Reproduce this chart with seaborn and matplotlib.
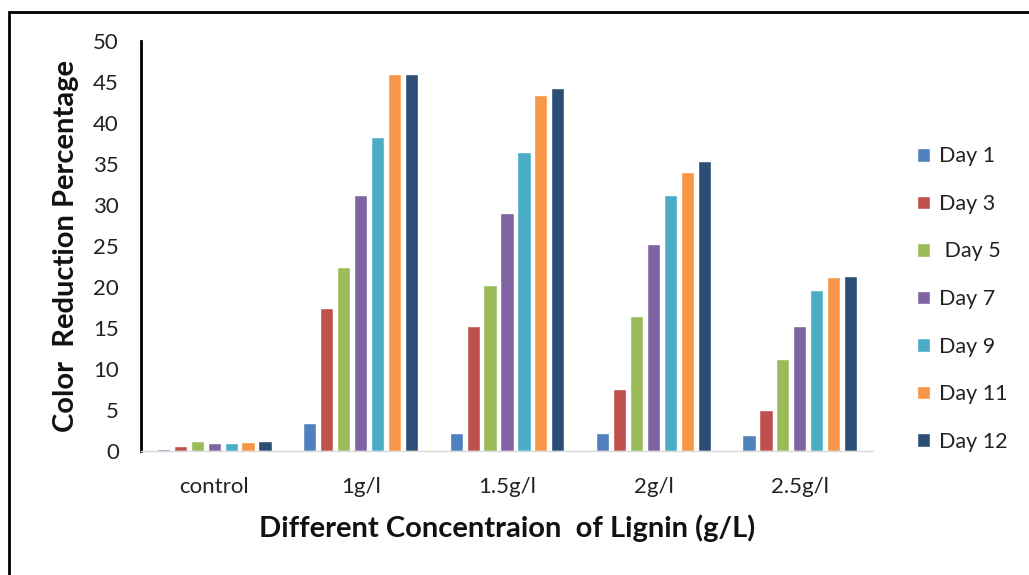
import matplotlib
matplotlib.use("Agg")
import matplotlib.pyplot as plt
import pandas as pd
import seaborn as sns
from matplotlib.patches import Rectangle

concentrations = ["control", "1g/l", "1.5g/l", "2g/l", "2.5g/l"]
days = ["Day 1", "Day 3", " Day 5", "Day 7", "Day 9", "Day 11", "Day 12"]

day1 = [0.25, 3.4, 2.2, 2.2, 2.0]
day3 = [0.6, 17.4, 15.2, 7.6, 5.0]
day5 = [1.2, 22.4, 20.2, 16.5, 11.2]
day7 = [1.0, 31.2, 29.0, 25.2, 15.2]
day9 = [1.0, 38.3, 36.5, 31.2, 19.6]
day11 = [1.1, 46.0, 43.4, 34.0, 21.2]
day12 = [1.2, 46.0, 44.3, 35.4, 21.3]

palette = ["#4F81BD", "#C0504D", "#9BBB59", "#8064A2", "#4BACC6", "#F79646", "#2C4D75"]

series = [day1, day3, day5, day7, day9, day11, day12]
rows = []
for day, vals in zip(days, series):
    for conc, v in zip(concentrations, vals):
        rows.append({"Concentration": conc, "Day": day, "Value": v})
df = pd.DataFrame(rows)

sns.set_theme(style="white")
plt.rcParams["font.family"] = ["Lato", "DejaVu Sans"]

fig = plt.figure(figsize=(10.29, 5.75), dpi=100)
W, H = 1029, 575
ax = fig.add_axes([141 / W, 1 - 451 / H, (873 - 141) / W, (451 - 41) / H])

sns.barplot(data=df, x="Concentration", y="Value", hue="Day",
            order=concentrations, hue_order=days, palette=palette,
            width=0.81, gap=0.22, saturation=1, ax=ax, errorbar=None)

ax.set_ylim(0, 50)
ax.set_yticks(range(0, 51, 5))
ax.tick_params(axis="y", length=0, pad=16, labelsize=16, labelcolor="#222222")
ax.tick_params(axis="x", length=0, pad=19, labelsize=16, labelcolor="#222222")

for side in ["top", "right"]:
    ax.spines[side].set_visible(False)
ax.spines["left"].set_color("black")
ax.spines["left"].set_linewidth(2)
ax.spines["bottom"].set_color("#D9D9D9")
ax.spines["bottom"].set_linewidth(1)

ax.set_ylabel("Color  Reduction Percentage", fontsize=21, fontweight="bold",
              color="#111111", labelpad=10)
ax.set_xlabel("Different Concentraion  of Lignin (g/L)", fontsize=21,
              fontweight="bold", color="#111111", labelpad=12)

leg = ax.legend(loc="upper left", bbox_to_anchor=(898 / W, 1 - 127 / H),
                bbox_transform=fig.transFigure, frameon=False,
                fontsize=15.5, labelspacing=1.28, handlelength=0.6,
                handleheight=0.6, handletextpad=0.4)
for t in leg.get_texts():
    t.set_color("#222222")

# figure frame
fig.patches.append(Rectangle((9 / W, -0.1), 1.2, 1.1 - 12 / H,
                             transform=fig.transFigure, fill=False,
                             edgecolor="black", linewidth=2, zorder=10))

fig.savefig("out.png", dpi=100)
